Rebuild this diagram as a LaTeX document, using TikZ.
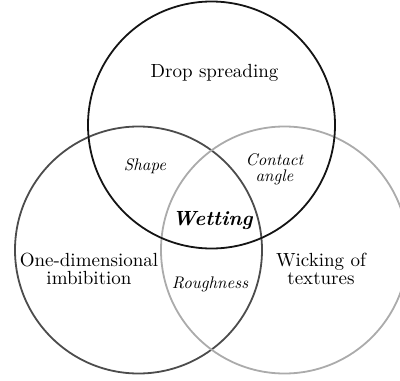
\documentclass[tikz,border=0pt]{standalone}
\usepackage{tikz}
\begin{document}
\begin{tikzpicture}[x=1pt,y=-1pt,
  ring/.style={line width=1.8pt},
  bigtext/.style={font=\fontsize{10}{9.5}\selectfont, inner sep=0pt, align=center, scale=1.9, transform shape},
  smalltext/.style={font=\fontsize{10}{9.6}\selectfont\itshape, inner sep=0pt, align=center, scale=1.68, transform shape}]
\useasboundingbox (0,0) rectangle (400,381);
\begin{scope}
\clip (0,0) rectangle (400,381);
\draw[ring, draw=black!70] (138.5,250) circle[radius=123.5];
\draw[ring, draw=black!33] (284.5,250) circle[radius=123.5];
\draw[ring, draw=black!92] (211.5,125) circle[radius=123.5];
\end{scope}
\node[bigtext, anchor=base] (drop) at (214.5,77.5) {Drop spreading};
\node[bigtext] (one) at (89,269) {One-dimensional\\imbibition};
\node[bigtext] (wick) at (321,269) {Wicking of\\textures};
\node[smalltext, anchor=base] (shape) at (145,170.5) {Shape};
\node[smalltext] (contact) at (274.5,169) {Contact\\angle};
\node[smalltext, anchor=base] (rough) at (210,288) {Roughness};
\node[inner sep=0pt, anchor=base, font=\fontsize{10}{10}\selectfont\bfseries\itshape, scale=2.05, transform shape] (wet) at (212.5,225) {Wetting};
\end{tikzpicture}
\end{document}
